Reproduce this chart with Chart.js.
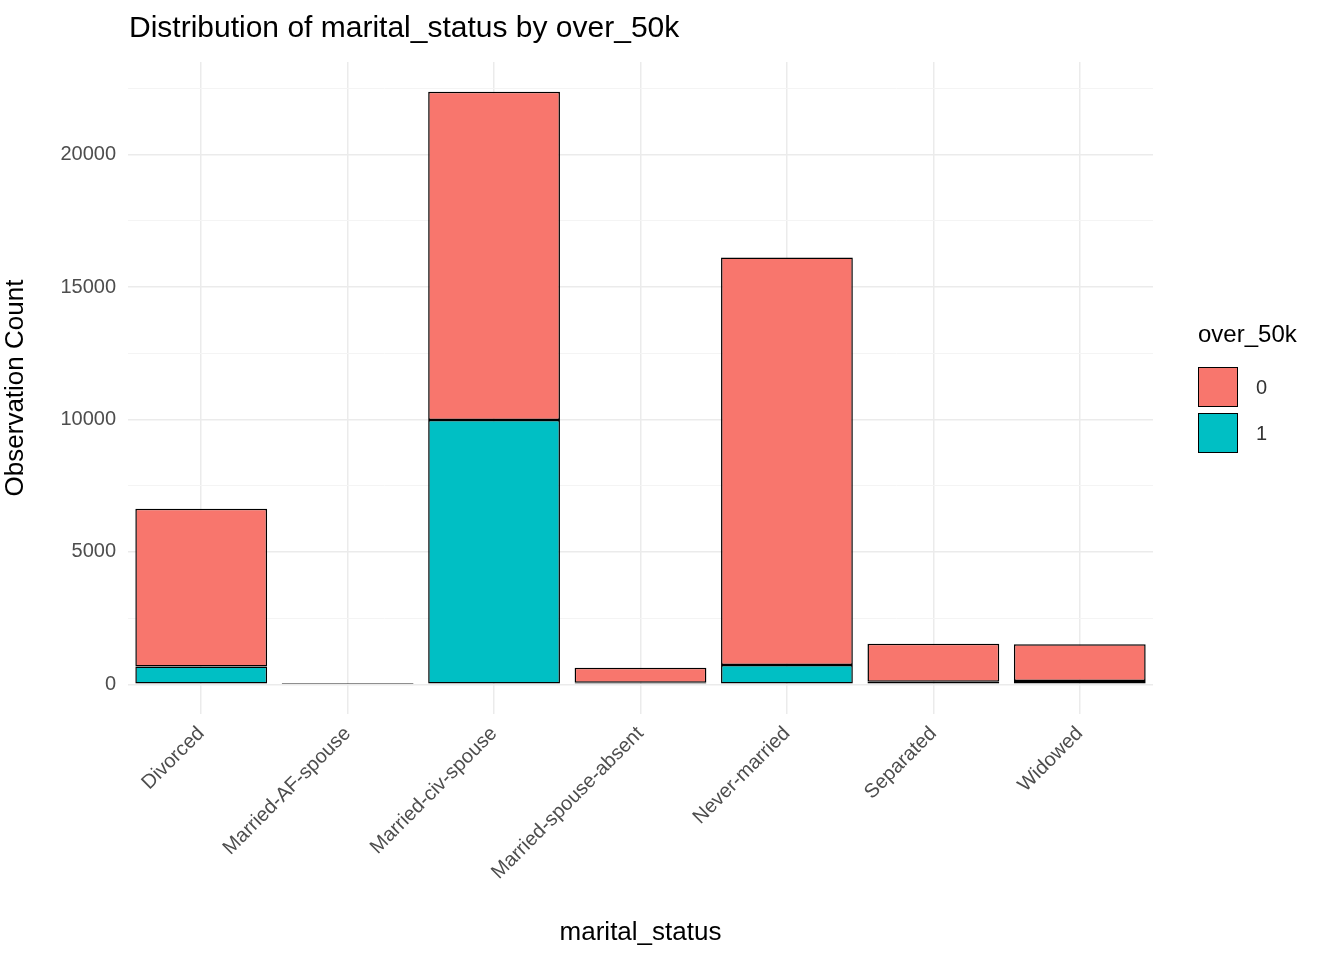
<!DOCTYPE html>
<html>
<head>
<meta charset="utf-8">
<script src="https://cdn.jsdelivr.net/npm/chart.js@4"></script>
<style>
  body { margin: 0; background: #fff; font-family: "Liberation Sans", Arial, sans-serif; }
  #wrap { position: relative; width: 1344px; height: 960px; }
  #title { position: absolute; left: 129px; top: 10px; font-size: 30px; color: #000; }
  #legend { position: absolute; left: 1198px; top: 320px; font-size: 24px; color: #000; }
  .key { display: flex; align-items: center; height: 46px; font-size: 20px; color: #333; }
  .sw { width: 40px; height: 40px; border: 1.5px solid #000; margin-right: 18px; box-sizing: border-box; }
</style>
</head>
<body>
<div id="wrap">
  <canvas id="chart" width="1344" height="960"></canvas>
  <div id="title">Distribution of marital_status by over_50k</div>
  <div id="legend">
    <div style="margin-bottom:16px">over_50k</div>
    <div class="key"><div class="sw" style="background:#F8766D"></div>0</div>
    <div class="key"><div class="sw" style="background:#00BFC4"></div>1</div>
  </div>
</div>
<script>
window.document.addEventListener("DOMContentLoaded", () => {
  // data
  var statuses = ["Divorced", "Married-AF-spouse", "Married-civ-spouse", "Married-spouse-absent", "Never-married", "Separated", "Widowed"];
  var over0 = [5962, 23, 12395, 570, 15384, 1431, 1390];
  var over1 = [671, 14, 9984, 58, 733, 99, 128];
  var yTicks = [0, 2500, 5000, 7500, 10000, 12500, 15000, 17500, 20000, 22500];

  new Chart(document.getElementById("chart"), {
    type: 'bar',
    data: {
      labels: statuses,
      datasets: [
        { label: "1", data: over1, backgroundColor: "#00BFC4", borderColor: "#000", borderWidth: 1.5, borderSkipped: false },
        { label: "0", data: over0, backgroundColor: "#F8766D", borderColor: "#000", borderWidth: 1.5, borderSkipped: false }
      ]
    },
    options: {
      responsive: false,
      animation: false,
      layout: { padding: { top: 62, right: 191, left: 0, bottom: 0 } },
      datasets: { bar: { barPercentage: 0.9, categoryPercentage: 1 } },
      plugins: { legend: { display: false }, tooltip: { enabled: false } },
      scales: {
        x: {
          stacked: true,
          offset: true,
          grid: { offset: false, color: "#ebebeb", lineWidth: 1.5, drawTicks: false },
          border: { display: false },
          ticks: { color: "#4d4d4d", font: { size: 20, family: "Liberation Sans" }, minRotation: 45, maxRotation: 45, padding: 8 },
          title: { display: true, text: "marital_status", color: "#000", font: { size: 26, family: "Liberation Sans" }, padding: { top: 0, bottom: 12 } },
          afterFit: (s) => { s.height = 246; }
        },
        y: {
          stacked: true,
          min: -1119,
          max: 23498,
          afterBuildTicks: (s) => { s.ticks = yTicks.map(v => ({ value: v })); },
          grid: {
            drawTicks: false,
            color: (c) => (c.tick && c.tick.value % 5000 === 0) ? "#ebebeb" : "#f4f4f4",
            lineWidth: (c) => (c.tick && c.tick.value % 5000 === 0) ? 1.5 : 1
          },
          border: { display: false },
          ticks: {
            color: "#4d4d4d", font: { size: 20, family: "Liberation Sans" }, padding: 12,
            callback: (v) => v % 5000 === 0 ? String(v) : ""
          },
          title: { display: true, text: "Observation Count", color: "#000", font: { size: 26, family: "Liberation Sans" }, padding: { top: 0, bottom: 6 } },
          afterFit: (s) => { s.width = 128; }
        }
      }
    }
  });
});
</script>
</body>
</html>
